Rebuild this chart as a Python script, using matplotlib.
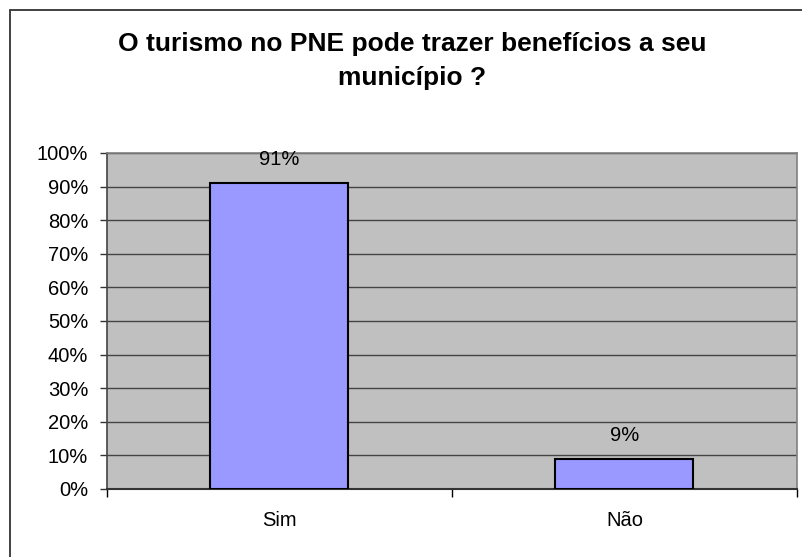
import matplotlib
matplotlib.use("Agg")
import matplotlib.pyplot as plt
from matplotlib.patches import Rectangle

# data
categories = ["Sim", "Não"]
values = [91, 9]
title = "O turismo no PNE pode trazer benefícios a seu\nmunicípio ?"

plt.rcParams['font.family'] = ['Liberation Sans', 'DejaVu Sans']

W, H = 803, 557
fig = plt.figure(figsize=(W / 100, H / 100), dpi=100)
fig.patch.set_facecolor("white")

# outer chart border (runs off the right and bottom edges)
fig.patches.append(Rectangle((10 / W, -0.05), 1.2, 1 - 10 / H + 0.05,
                             transform=fig.transFigure, fill=False,
                             edgecolor="#333333", linewidth=1.3))

left, right, top, bottom = 107, 797, 153, 489
ax = fig.add_axes([left / W, 1 - bottom / H, (right - left) / W, (bottom - top) / H])
ax.set_facecolor("#C0C0C0")

x = list(range(len(categories)))
ax.bar(x, values, width=0.4, color="#9999FF", edgecolor="black", linewidth=1.5, zorder=3)
for xi, v in zip(x, values):
    ax.text(xi, v + 7, f"{v}%", ha="center", va="center", fontsize=14.5, zorder=4)

ax.set_xlim(-0.5, len(categories) - 0.5)
ax.set_ylim(0, 100)
ax.set_yticks(range(0, 101, 10))
ax.set_yticklabels([f"{t}%" for t in range(0, 101, 10)], fontsize=14.5)
ax.set_xticks(x)
ax.set_xticklabels(categories, fontsize=14.5)
ax.tick_params(axis="x", length=0, pad=16)
ax.tick_params(axis="y", length=5, width=1, color="#333333", pad=8.5)
# category boundary ticks
ax.set_xticks([-0.5, 0.5, 1.5], minor=True)
ax.tick_params(axis="x", which="minor", length=6, width=1, color="black", direction="out")

ax.yaxis.grid(True, color="#444444", linewidth=1)
ax.set_axisbelow(True)
for side in ["top", "right"]:
    ax.spines[side].set_color("#808080")
    ax.spines[side].set_linewidth(1.2)
ax.spines["left"].set_color("#444444")
ax.spines["left"].set_linewidth(1.2)
ax.spines["bottom"].set_color("#333333")
ax.spines["bottom"].set_linewidth(1.5)

fig.text(412 / W, 1 - 61 / H, title, ha="center", va="center", fontsize=19,
         fontweight="bold", linespacing=1.55)

fig.savefig("out.png", dpi=100)
